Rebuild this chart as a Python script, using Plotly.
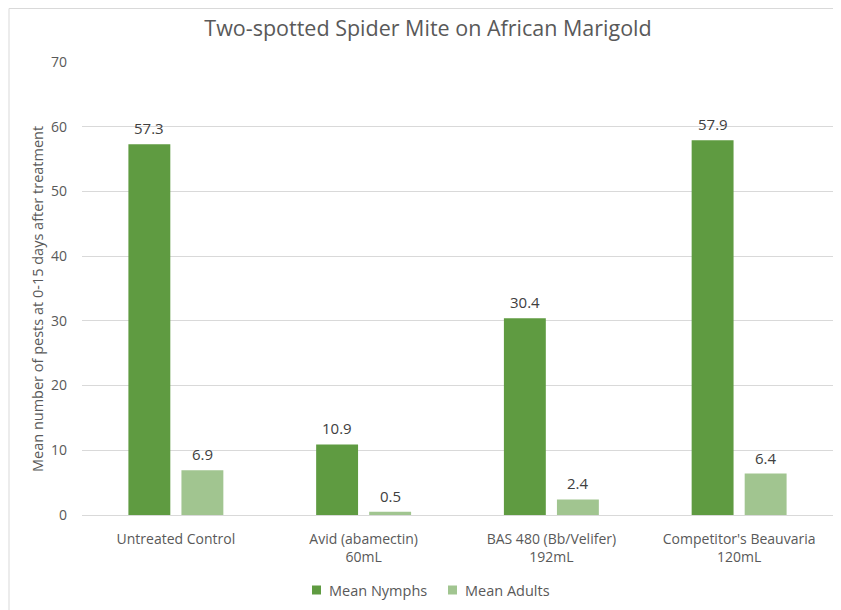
import plotly.graph_objects as go

categories = ["Untreated Control", "Avid (abamectin)<br>60mL", "BAS 480 (Bb/Velifer)<br>192mL", "Competitor's Beauvaria<br>120mL"]
nymphs = [57.3, 10.9, 30.4, 57.9]
adults = [6.9, 0.5, 2.4, 6.4]
series_names = ["Mean Nymphs", "Mean Adults"]
y_ticks = [0, 10, 20, 30, 40, 50, 60, 70]

FONT = "Open Sans"
GRAY = "#595959"
C_NYMPH = "#5f9b41"
C_ADULT = "#a1c590"

W, H = 833, 602
L, R, T, B = 74, 8, 54, 95
PW, PH = W - L - R, H - T - B


def px(fx):
    return (fx - L) / PW


def py(fy):
    return (PH - (fy - T)) / PH


fig = go.Figure()
fig.add_trace(go.Bar(x=categories, y=nymphs, name=series_names[0],
                     marker=dict(color=C_NYMPH, line=dict(width=0))))
fig.add_trace(go.Bar(x=categories, y=adults, name=series_names[1],
                     marker=dict(color=C_ADULT, line=dict(width=0))))

# data labels
for series, shift in ((nymphs, -26.5), (adults, 26.5)):
    for c, v in zip(categories, series):
        fig.add_annotation(x=c, y=v, text=f"{v:.1f}", showarrow=False,
                           xshift=shift, yshift=16, yanchor="middle",
                           font=dict(family=FONT, size=15, color="#404040"))

# y-axis title
fig.add_annotation(xref="paper", yref="paper", x=px(29), y=py(291),
                   text="Mean number of pests at 0-15 days after treatment",
                   textangle=-90, showarrow=False, xanchor="center", yanchor="middle",
                   font=dict(family=FONT, size=14.5, color=GRAY))

# legend (Excel-style small squares)
for name, color, sx in ((series_names[0], C_NYMPH, 304), (series_names[1], C_ADULT, 440)):
    fig.add_shape(type="rect", xref="paper", yref="paper",
                  x0=px(sx), x1=px(sx + 9), y0=py(586.5), y1=py(577.5),
                  fillcolor=color, line=dict(width=0))
    fig.add_annotation(xref="paper", yref="paper", x=px(sx + 15), y=py(582),
                       text=name, showarrow=False, xanchor="left", yanchor="middle",
                       font=dict(family=FONT, size=14.5, color=GRAY))

fig.update_layout(
    width=W, height=H,
    margin=dict(l=L, r=R, t=T, b=B),
    paper_bgcolor="white", plot_bgcolor="white",
    font=dict(family=FONT, color=GRAY, size=13),
    title=dict(text="Two-spotted Spider Mite on African Marigold",
               xref="container", x=420 / W, xanchor="center",
               yref="container", y=1 - 20 / H, yanchor="middle",
               font=dict(size=21.5, color=GRAY, family=FONT)),
    barmode="group", bargap=0.435, bargroupgap=0.21,
    showlegend=False,
    xaxis=dict(showgrid=False, showline=True, linecolor="#d9d9d9", linewidth=1,
               ticks="", ticklabelstandoff=11, tickfont=dict(size=14, color=GRAY)),
    yaxis=dict(range=[0, 70], tickvals=y_ticks, showgrid=True, gridcolor="#d9d9d9",
               zeroline=False, showline=False, ticks="", ticklabelstandoff=14,
               tickfont=dict(size=14, color=GRAY)),
)

# chart-area border (top and left edges visible)
bx = px(1)
by = py(0.5)
fig.add_shape(type="line", xref="paper", yref="paper", x0=bx, x1=2.0, y0=by, y1=by,
              line=dict(color="#d9d9d9", width=1))
fig.add_shape(type="line", xref="paper", yref="paper", x0=bx, x1=bx, y0=by, y1=-2,
              line=dict(color="#d9d9d9", width=1))

fig.write_html("out.html")
